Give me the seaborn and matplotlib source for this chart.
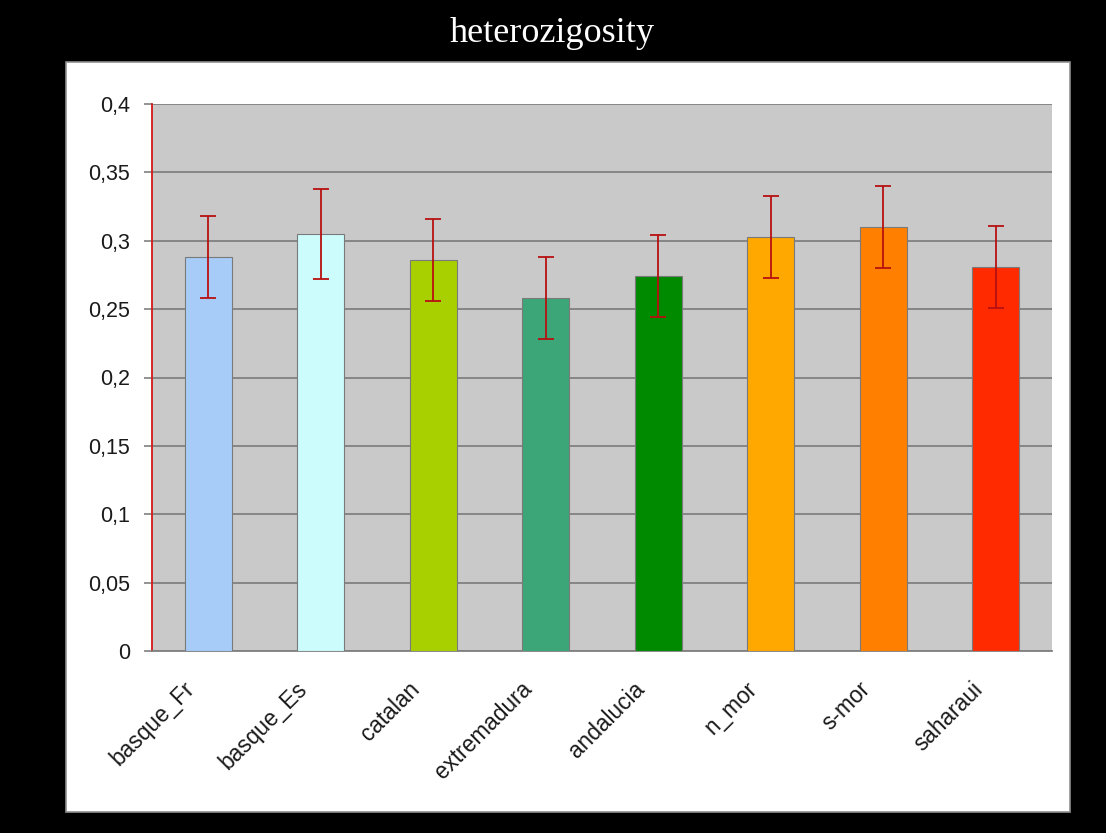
import matplotlib
matplotlib.use("Agg")
import matplotlib.pyplot as plt
import matplotlib.transforms as mtransforms
import seaborn as sns
import numpy as np
import pandas as pd
from matplotlib.patches import Rectangle

populations = ["basque_Fr", "basque_Es", "catalan", "extremadura",
               "andalucia", "n_mor", "s-mor", "saharaui"]
heterozygosity = [0.288, 0.305, 0.286, 0.258, 0.274, 0.303, 0.310, 0.281]
std_err = [0.030, 0.033, 0.030, 0.030, 0.030, 0.030, 0.030, 0.030]
bar_colors = ["#A6CCF7", "#CCFCFC", "#A8D000", "#3CA678",
              "#008A00", "#FFA800", "#FF8000", "#FF2A00"]
y_ticks = [0, 0.05, 0.1, 0.15, 0.2, 0.25, 0.3, 0.35, 0.4]
y_labels = ["0", "0,05", "0,1", "0,15", "0,2", "0,25", "0,3", "0,35", "0,4"]

sns.set_style("white")
plt.rcParams["font.family"] = ["Liberation Sans", "DejaVu Sans"]

df = pd.DataFrame({"pop": populations, "H": heterozygosity})

fig = plt.figure(figsize=(11.06, 8.33), dpi=100, facecolor="black")
W, H = 1106, 833

# white panel behind the chart
fig.patches.append(Rectangle((66 / W, 1 - 812 / H), (1070 - 66) / W, (812 - 62) / H,
                             transform=fig.transFigure, facecolor="white",
                             edgecolor="#909090", linewidth=1.2, zorder=-10))

ax = fig.add_axes([152 / W, 1 - 651 / H, 900 / W, 547 / H])
ax.set_facecolor("#C9C9C9")

sns.barplot(data=df, x="pop", y="H", hue="pop", palette=bar_colors,
            saturation=1, legend=False, width=0.42, edgecolor="#7A7A7A",
            linewidth=0.8, ax=ax, zorder=3)

x = np.arange(len(populations))
_, caps, bars = ax.errorbar(x, heterozygosity, yerr=std_err, fmt="none",
                            ecolor="#B81010", elinewidth=1.3, capsize=5.5,
                            capthick=1.3, zorder=4)
for c in caps:
    c.set_color("#6A2A2A")

ax.set_ylim(0, 0.4)
ax.set_xlim(-0.5, len(populations) - 0.5)
ax.set_yticks(y_ticks)
ax.set_yticklabels(y_labels, fontsize=15.5, color="#1A1A1A")
ax.yaxis.grid(True, color="#808080", linewidth=1.3, zorder=1)
ax.set_axisbelow(True)

ax.set_xticks(x)
ax.set_xticklabels(populations, rotation=45, ha="right",
                   rotation_mode="anchor", fontsize=16.3, color="#1A1A1A")
ax.set_xticks(np.arange(len(populations) + 1) - 0.5, minor=True)
ax.tick_params(axis="x", which="major", length=0, pad=14)
ax.tick_params(axis="x", which="minor", length=6, width=1.3,
               color="#8A2020", direction="out")
ax.tick_params(axis="y", which="major", length=6, width=1.2,
               color="#808080", direction="out", left=True, pad=10)

# nudge rotated category labels down-left, like the original
shift = mtransforms.ScaledTranslation(-25 / 100, -7 / 100, fig.dpi_scale_trans)
for lbl in ax.get_xticklabels():
    lbl.set_transform(lbl.get_transform() + shift)

ax.set_xlabel("")
ax.set_ylabel("")
for side in ["top", "right"]:
    ax.spines[side].set_visible(False)
ax.spines["left"].set_color("#D01818")
ax.spines["left"].set_linewidth(1.3)
ax.spines["bottom"].set_color("#808080")
ax.spines["bottom"].set_linewidth(1.3)

fig.text(552 / W, 1 - 42 / H, "heterozigosity", color="white",
         family=["Liberation Serif", "DejaVu Serif"], fontsize=26,
         ha="center", va="baseline")

fig.savefig("out.png", dpi=100, facecolor="black")
